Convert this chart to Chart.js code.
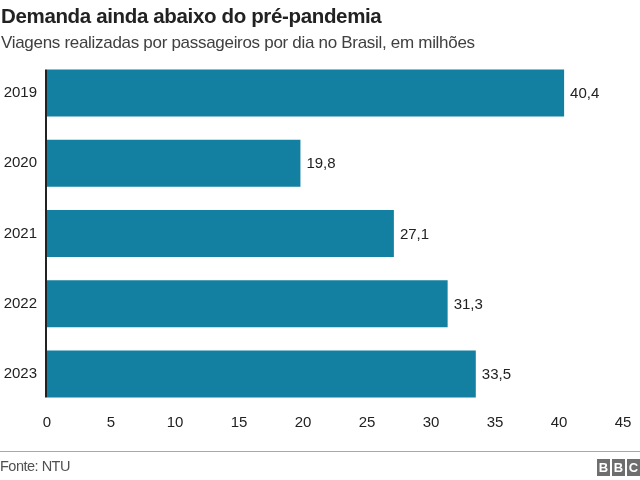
<!DOCTYPE html>
<html>
<head>
<meta charset="utf-8">
<script src="https://cdn.jsdelivr.net/npm/chart.js@4"></script>
<style>
  body { margin: 0; width: 640px; height: 480px; overflow: hidden; background: #fff; font-family: "Liberation Sans", Arial, sans-serif; }
  #wrap { position: relative; width: 640px; height: 480px; }
  #titulo { position: absolute; left: 1px; top: 4px; font-size: 20.5px; letter-spacing: -0.35px; font-weight: bold; color: #222; white-space: nowrap; }
  #subtitulo { position: absolute; left: 1px; top: 33px; font-size: 17px; letter-spacing: -0.3px; color: #404040; white-space: nowrap; }
  #linha { position: absolute; left: 0; top: 451px; width: 640px; height: 1px; background: #a8a8a8; }
  #fonte { position: absolute; left: 0; top: 458px; font-size: 14.5px; letter-spacing: -0.5px; color: #505050; }
  #bbc { position: absolute; right: 0; top: 459px; display: flex; gap: 2px; }
  #bbc span { width: 13px; height: 17px; background: #6e6e6e; color: #fff; font-weight: bold; font-size: 13px; line-height: 17px; text-align: center; }
  canvas { position: absolute; left: 0; top: 0; }
</style>
</head>
<body>
<div id="wrap">
  <canvas id="grafico" width="640" height="480"></canvas>
  <div id="titulo">Demanda ainda abaixo do pré-pandemia</div>
  <div id="subtitulo">Viagens realizadas por passageiros por dia no Brasil, em milhões</div>
  <div id="linha"></div>
  <div id="fonte">Fonte: NTU</div>
  <div id="bbc"><span>B</span><span>B</span><span>C</span></div>
</div>
<script>
// Dados do gráfico
const anos = ['2019', '2020', '2021', '2022', '2023'];
const viagens = [40.4, 19.8, 27.1, 31.3, 33.5];
const rotulos = ['40,4', '19,8', '27,1', '31,3', '33,5'];

const corBarra = '#1380A1';
const fonte = '"Liberation Sans", Arial, sans-serif';

// Rótulos de valor à direita das barras e linha do eixo zero
const pluginRotulos = {
    id: 'rotulos',
    afterDatasetsDraw(chart) {
        const ctx = chart.ctx;
        const meta = chart.getDatasetMeta(0);
        ctx.save();
        ctx.font = '15px ' + fonte;
        ctx.fillStyle = '#222';
        ctx.textBaseline = 'middle';
        meta.data.forEach((barra, i) => {
            ctx.fillText(rotulos[i], barra.x + 6, barra.y + 1);
        });
        // linha do eixo
        const x0 = chart.scales.x.getPixelForValue(0);
        const primeira = meta.data[0];
        const ultima = meta.data[meta.data.length - 1];
        ctx.strokeStyle = '#222';
        ctx.lineWidth = 2;
        ctx.beginPath();
        ctx.moveTo(x0 - 1, primeira.y - primeira.height / 2);
        ctx.lineTo(x0 - 1, ultima.y + ultima.height / 2);
        ctx.stroke();
        ctx.restore();
    }
};

new Chart(document.getElementById('grafico').getContext('2d'), {
    type: 'bar',
    data: {
        labels: anos,
        datasets: [{
            data: viagens,
            backgroundColor: corBarra,
            borderWidth: 0,
            barPercentage: 1,
            categoryPercentage: 0.67
        }]
    },
    options: {
        indexAxis: 'y',
        responsive: false,
        animation: false,
        layout: {
            padding: { top: 58, bottom: 40, left: 0, right: 17 }
        },
        plugins: {
            legend: { display: false },
            tooltip: { enabled: false }
        },
        scales: {
            x: {
                min: 0,
                max: 45,
                grid: { display: false, drawTicks: false },
                border: { display: false },
                afterFit(scale) { scale.height = 31; },
                ticks: {
                    stepSize: 5,
                    padding: 5,
                    color: '#222',
                    font: { size: 15, family: fonte }
                }
            },
            y: {
                grid: { display: false, drawTicks: false },
                border: { display: false },
                afterFit(scale) { scale.width = 47; },
                ticks: {
                    padding: 10,
                    color: '#222',
                    font: { size: 15, family: fonte }
                }
            }
        }
    },
    plugins: [pluginRotulos]
});
</script>
</body>
</html>
